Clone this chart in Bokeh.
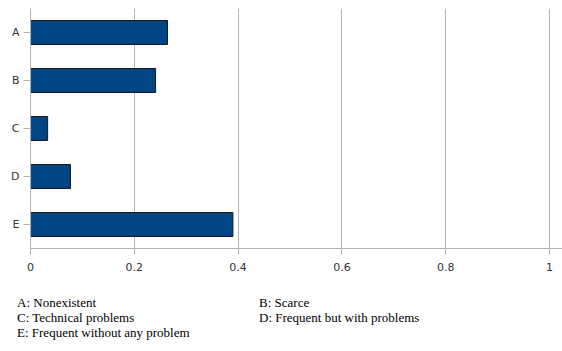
from bokeh.plotting import figure
from bokeh.models import FactorRange, Range1d, ColumnDataSource, FixedTicker, Div
from bokeh.layouts import column
from bokeh.embed import file_html
from bokeh.resources import INLINE

categories = ["A", "B", "C", "D", "E"]
shares = [0.264, 0.241, 0.033, 0.077, 0.390]
x_ticks = [0, 0.2, 0.4, 0.6, 0.8, 1]
legend_labels = ["A: Nonexistent", "B: Scarce", "C: Technical problems",
                 "D: Frequent but with problems", "E: Frequent without any problem"]

GRID = "#b3b3b3"
LABEL = "#333333"

p = figure(width=562, height=280, output_backend="svg", toolbar_location=None,
           y_range=FactorRange(factors=list(reversed(categories))),
           x_range=Range1d(0, 1.025),
           min_border_left=30, min_border_right=0, min_border_top=8, min_border_bottom=32)
p.outline_line_color = None
src = ColumnDataSource(dict(cat=categories, val=shares))
p.hbar(y="cat", right="val", left=0, height=0.5, source=src,
       fill_color="#004586", line_color="#1a1a1a", line_width=1)

p.xaxis.ticker = FixedTicker(ticks=x_ticks)
p.xaxis.major_label_overrides = {0: "0", 1: "1"}
p.xaxis.axis_line_color = GRID
p.xaxis.major_tick_line_color = GRID
p.xaxis.major_tick_out = 6
p.xaxis.major_tick_in = 0
p.xaxis.minor_tick_line_color = None
p.xaxis.major_label_standoff = 8
p.xaxis.major_label_text_font = "DejaVu Sans"
p.xaxis.major_label_text_font_size = "11px"
p.xaxis.major_label_text_color = LABEL

p.yaxis.axis_line_color = GRID
p.yaxis.major_tick_line_color = GRID
p.yaxis.major_tick_out = 7
p.yaxis.major_tick_in = 0
p.yaxis.major_label_standoff = 4
p.yaxis.major_label_text_font = "DejaVu Sans"
p.yaxis.major_label_text_font_size = "11px"
p.yaxis.major_label_text_color = LABEL

p.xgrid.grid_line_color = GRID
p.xgrid.ticker = FixedTicker(ticks=x_ticks)
p.ygrid.grid_line_color = None

# legend text below, as an HTML block
col_x = [17, 259]
rows_y = [15, 30, 45]
items = []
for i, lab in enumerate(legend_labels):
    x = col_x[i % 2]
    y = rows_y[i // 2]
    items.append(
        f'<span style="position:absolute;left:{x}px;top:{y}px;white-space:nowrap;'
        f'line-height:15px;font-family:\'Times New Roman\',Times,\'Liberation Serif\',Tinos,'
        f'\'Noto Serif\',\'DejaVu Serif\',serif;'
        f'font-size:13px;color:#000">{lab}</span>'
    )
html = "".join(items)
d = Div(text=html, width=562, height=71, margin=(0, 0, 0, 0),
        styles={"position": "relative"})

layout = column(p, d, spacing=0)
open("out.html", "w").write(file_html(layout, INLINE))
